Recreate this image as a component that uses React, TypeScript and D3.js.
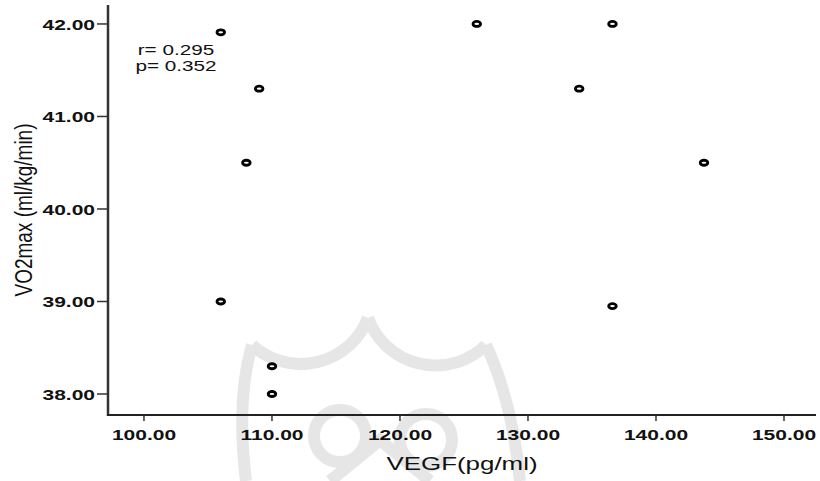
import React from "react";
import * as d3 from "d3";

// VEGF (pg/ml) vs VO2max (ml/kg/min)
const vegf = [106, 109, 108, 106, 110, 110, 126, 136.6, 134, 143.75, 136.6];
const vo2max = [41.91, 41.3, 40.5, 39.0, 38.3, 38.0, 42.0, 42.0, 41.3, 40.5, 38.95];
const xTicks = [100, 110, 120, 130, 140, 150];
const yTicks = [38, 39, 40, 41, 42];
const statLines = ["r= 0.295", "p= 0.352"];

const W = 820;
const H = 481;
const FONT = "'Liberation Sans', Arial, sans-serif";

export default function App() {
  const x = d3.scaleLinear().domain([97.19, 152.5]).range([108, 816]);
  const y = d3.scaleLinear().domain([37.773, 42.205]).range([415, 5]);
  const fmt = d3.format(".2f");
  const pts = vegf.map((v, i) => ({ v, o: vo2max[i] }));

  // faint logo watermark behind the plot
  const wm = "#e6e6e6";

  return (
    <svg
      width={W}
      height={H}
      style={{ position: "absolute", left: 0, top: 0, background: "#fff" }}
    >
      <g fill="none" stroke={wm} strokeWidth={12}>
        <path d="M 252 345 A 72 72 0 0 0 368 318" />
        <path d="M 368 318 A 72 72 0 0 0 486 345" />
        <path d="M 252 345 Q 236 400 246 481" />
        <path d="M 486 345 Q 512 400 520 481" />
        <circle cx={340} cy={436} r={26} />
        <circle cx={426} cy={440} r={26} />
        <path d="M 330 481 L 380 440 L 430 481" />
      </g>

      {/* axes */}
      <line x1={108} x2={108} y1={5} y2={416} stroke="#333" strokeWidth={2.5} />
      <line x1={107} x2={816} y1={415} y2={415} stroke="#222" strokeWidth={2} />

      {yTicks.map((t) => (
        <g key={"y" + t}>
          <line x1={97} x2={108} y1={y(t)} y2={y(t)} stroke="#333" strokeWidth={1.5} />
          <text
            transform={`translate(95,${y(t) + 6}) scale(1.5,1)`}
            textAnchor="end"
            fontFamily={FONT}
            fontWeight="bold"
            fontSize={14}
            fill="#111"
          >
            {fmt(t)}
          </text>
        </g>
      ))}

      {xTicks.map((t) => (
        <g key={"x" + t}>
          <line x1={x(t)} x2={x(t)} y1={415} y2={421} stroke="#333" strokeWidth={1.5} />
          <text
            transform={`translate(${x(t)},${439.5}) scale(1.5,1)`}
            textAnchor="middle"
            fontFamily={FONT}
            fontWeight="bold"
            fontSize={14}
            fill="#111"
          >
            {fmt(t)}
          </text>
        </g>
      ))}

      {/* axis titles */}
      <text
        transform="translate(462,470) scale(1.4,1)"
        textAnchor="middle"
        fontFamily={FONT}
        fontSize={18.5}
        fill="#111"
      >
        VEGF(pg/ml)
      </text>
      <text
        transform="translate(32,210) scale(1.3,1) rotate(-90)"
        textAnchor="middle"
        fontFamily={FONT}
        fontSize={19}
        fill="#111"
      >
        VO2max (ml/kg/min)
      </text>

      {/* r / p annotation */}
      {statLines.map((s, i) => (
        <text
          key={s}
          transform={`translate(176,${55 + i * 15.5}) scale(1.48,1)`}
          textAnchor="middle"
          fontFamily={FONT}
          fontSize={14}
          fill="#111"
        >
          {s}
        </text>
      ))}

      {/* points */}
      {pts.map((d, i) => (
        <ellipse
          key={i}
          cx={x(d.v)}
          cy={y(d.o)}
          rx={3.8}
          ry={2.5}
          fill="#fff"
          stroke="#000"
          strokeWidth={2.8}
        />
      ))}
    </svg>
  );
}
